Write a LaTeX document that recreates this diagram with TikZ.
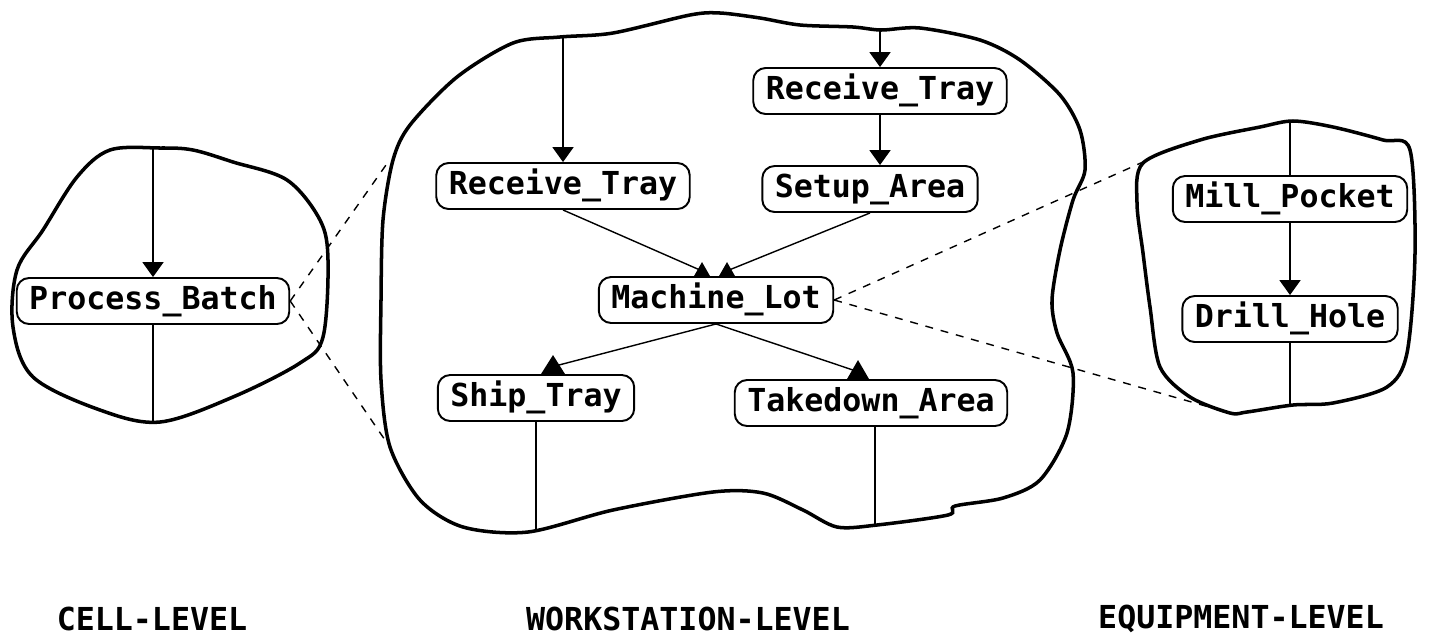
\documentclass[tikz,border=0pt]{standalone}
\usepackage{fontspec}
\setmonofont{DejaVu Sans Mono}
\usetikzlibrary{arrows.meta,calc}
% filled marker sitting on a box top, apex pointing up
\newcommand\uptri[3]{\fill (#1) ++(-#2,0) -- ++(2*#2,0) -- ++(-#2,-#3) -- cycle;}
\begin{document}
\begin{tikzpicture}
	[%%%%%%%%%%%%%%%%%%%%%%%%%%%%%%
		x=0.02cm, y=-0.02cm,
		proc/.style={rectangle, rounded corners=7pt, draw=black, line width=1.1pt, minimum height=0.92cm, inner xsep=0.25cm, inner ysep=1pt, text height=0.47cm, text depth=0.12cm, font=\ttfamily\bfseries\fontsize{18}{20}\selectfont},
		level/.style={font=\ttfamily\bfseries\fontsize{18}{20}\selectfont},
		blob/.style={line width=2pt},
		flow/.style={line width=0.8pt, -{Triangle[width=12pt,length=8.5pt]}},
		link/.style={line width=0.8pt},
		zoomline/.style={line width=0.8pt, dash pattern=on 4.5pt off 4.5pt},
	]%%%%%%%%%%%%%%%%%%%%%%%%%%%%%%
	\useasboundingbox (0,0) rectangle (1429,640);

	% outlines
	\draw[blob] plot[smooth cycle, tension=0.55] coordinates {(160,148) (193,150) (233,162) (287,180) (320,220) (328,260) (323,337) (300,363) (233,397) (160,422) (100,410) (33,377) (13,327) (17,270) (43,230) (77,177) (110,150)};
	\draw[blob] plot[smooth cycle, tension=0.5] coordinates {(513,43) (560,37) (613,33) (690,15) (720,13) (760,18) (800,25) (853,27) (881,30) (920,28) (980,40) (1020,60) (1060,95) (1080,130) (1085,170) (1073,200) (1060,250) (1052,300) (1057,333) (1073,373) (1067,433) (1040,480) (1003,498) (955,506) (948,515) (877,525) (837,527) (803,510) (763,493) (713,492) (613,510) (528,532) (463,527) (420,500) (390,447) (381,380) (381,300) (383,220) (393,160) (410,125) (457,77)};
	\draw[blob] plot[smooth cycle, tension=0.5] coordinates {(1293,121) (1333,127) (1383,140) (1410,150) (1415,253) (1407,353) (1387,387) (1333,403) (1293,405) (1247,412) (1230,413) (1190,397) (1160,367) (1150,307) (1143,253) (1137,203) (1143,163) (1200,140) (1260,127)};

	% cell level
	\node[proc] (pb) at (153,301) {Process\_Batch};
	\coordinate (pbIn) at (153,148);
	\coordinate (pbOut) at (153,422);

	% workstation level
	\node[proc] (rtA) at (563,186) {Receive\_Tray};
	\node[proc] (rtB) at (880,91) {Receive\_Tray};
	\node[proc] (sa) at (870,189) {Setup\_Area};
	\node[proc] (ml) at (716,300) {Machine\_Lot};
	\node[proc] (st) at (536,398) {Ship\_Tray};
	\node[proc] (ta) at (871,403) {Takedown\_Area};
	\coordinate (rtAIn) at (563,37);
	\coordinate (rtBIn) at (880,30);
	\coordinate (stOut) at (536,532);
	\coordinate (taOut) at (875,525);

	% equipment level
	\node[proc] (mp) at (1290,199) {Mill\_Pocket};
	\node[proc] (dh) at (1290,319) {Drill\_Hole};
	\coordinate (mpIn) at (1290,121);
	\coordinate (dhOut) at (1290,405);

	% zoom lines
	\coordinate (wsTop) at (386,165);
	\coordinate (wsBot) at (385,440);
	\coordinate (eqTop) at (1143,162);
	\coordinate (eqBot) at (1230,413);
	\draw[zoomline] (pb.east) -- (wsTop);
	\draw[zoomline] (pb.east) -- (wsBot);
	\draw[zoomline] (ml.east) -- (eqTop);
	\draw[zoomline] (ml.east) -- (eqBot);

	% connectors
	\draw[flow] (pbIn) -- (pb.north);
	\draw[link] (pb.south) -- (pbOut);
	\draw[flow] (rtAIn) -- (rtA.north);
	\draw[flow] (rtBIn) -- (rtB.north);
	\draw[flow] (rtB.south) -- (rtB.south |- sa.north);
	\draw[link] (rtA.south) -- ($(ml.north)+(-16,-6)$);
	\draw[link] (sa.south) -- ($(ml.north)+(13,-6)$);
	\draw[link] (ml.south) -- ($(st.north)+(19,-8)$);
	\draw[link] (ml.south) -- ($(ta.north)+(-15,-8)$);
	\draw[link] (st.south) -- (stOut);
	\draw[link] (ta.south -| taOut) -- (taOut);
	\draw[link] (mpIn) -- (mp.north);
	\draw[flow] (mp.south) -- (dh.north);
	\draw[link] (dh.south) -- (dhOut);
	\uptri{$(ml.north)+(-14,0)$}{8}{14}
	\uptri{$(ml.north)+(11,0)$}{8}{14}
	\uptri{$(st.north)+(17,0)$}{12}{19}
	\uptri{$(ta.north)+(-13,0)$}{11}{19}

	% level names
	\node[level] (cellLbl) at (152,619) {CELL-LEVEL};
	\node[level] (wsLbl) at (688,619) {WORKSTATION-LEVEL};
	\node[level] (eqLbl) at (1241,619) {EQUIPMENT-LEVEL};
\end{tikzpicture}
\end{document}
